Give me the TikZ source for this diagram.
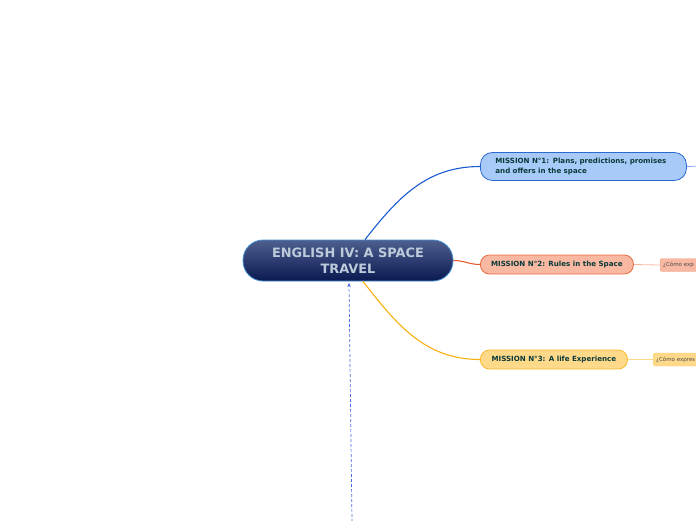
\documentclass[tikz,border=0pt]{standalone}
\usepackage{fontspec}
\setmainfont{DejaVu Sans}
\usetikzlibrary{arrows.meta}
\definecolor{cenTop}{HTML}{4E5E8E}
\definecolor{cenBot}{HTML}{0A1A52}
\definecolor{cenBorder}{HTML}{4A90D0}
\definecolor{cenText}{HTML}{BCCADA}
\definecolor{mText}{HTML}{0A3A3A}
\definecolor{oneFill}{HTML}{A8CAF8}
\definecolor{oneLine}{HTML}{2A6AD0}
\definecolor{oneEdge}{HTML}{1A5AD0}
\definecolor{twoFill}{HTML}{F8B8A2}
\definecolor{twoLine}{HTML}{E86A40}
\definecolor{twoEdge}{HTML}{E85A30}
\definecolor{threeFill}{HTML}{FFD98A}
\definecolor{threeLine}{HTML}{F8B828}
\definecolor{threeEdge}{HTML}{F8B010}
\definecolor{dashBlue}{HTML}{4A6AE0}
\tikzset{
  central/.style={draw=cenBorder, line width=0.8pt, rounded corners=20pt,
    top color=cenTop, bottom color=cenBot, minimum width=210pt, minimum height=41pt,
    text=cenText, font=\fontsize{12.9}{15.5}\selectfont\bfseries, align=center, inner sep=0pt},
  mission/.style={line width=0.8pt, rounded corners=9pt, minimum height=19pt,
    text=mText, font=\fontsize{7.1}{9.2}\selectfont\bfseries, inner sep=0pt, anchor=west},
  subbox/.style={rounded corners=1.5pt, minimum height=13pt, inner sep=0pt, anchor=west,
    text=black!70, font=\fontsize{5.5}{6}\selectfont, text width=60pt, align=left},
  branch/.style={line width=1.1pt},
  twig/.style={line width=0.8pt}
}
\begin{document}
\begin{tikzpicture}[x=1pt,y=-1pt]
\useasboundingbox (0,0) rectangle (696,520);
\clip (0,0) rectangle (696,520);
% central
\node[central] (c) at (348,260.5) {ENGLISH IV: A SPACE\\TRAVEL};
% missions
\node[mission, fill=oneFill, draw=oneLine, minimum width=206pt, minimum height=28pt, rounded corners=12pt,
  inner xsep=15pt, text width=176pt, align=left] (m1) at (480,166.5)
  {MISSION N°1: Plans, predictions, promises\\and offers in the space};
\node[mission, fill=twoFill, draw=twoLine, minimum width=153pt] (m2) at (480,264.5)
  {MISSION N°2: Rules in the Space};
\node[mission, fill=threeFill, draw=threeLine, minimum width=147pt] (m3) at (480,359.5)
  {MISSION N°3: A life Experience};
% sub boxes (run past the edge)
\node[subbox, fill=twoFill, draw=twoLine!60] (s2) at (660,265) {\hspace*{3pt}¿Cómo exp};
\node[subbox, fill=threeFill, draw=threeLine!70] (s3) at (653,359.5) {\hspace*{3pt}¿Cómo expres};
\coordinate (e1) at (700,166);
% connectors
\draw[branch, oneEdge] ([xshift=17pt]c.north) to[out=52,in=180] (m1.west);
\draw[branch, twoEdge] (c.east) to[out=0,in=180] (m2.west);
\draw[branch, threeEdge] ([xshift=15pt]c.south) to[out=-52,in=180] (m3.west);
\draw[twig, oneFill!80!blue] (m1.east) -- (e1);
\draw[twig, twoFill] (m2.east) -- (s2.west);
\draw[twig, threeFill] (m3.east) -- (s3.west);
% dashed arrow from below
\coordinate (d0) at (352,522);
\draw[dashBlue, line width=0.7pt, dash pattern=on 3pt off 2pt, -{Stealth[length=4pt,width=3.5pt]}]
  (d0) -- ([xshift=1pt,yshift=-1.5pt]c.south);
\end{tikzpicture}
\end{document}
